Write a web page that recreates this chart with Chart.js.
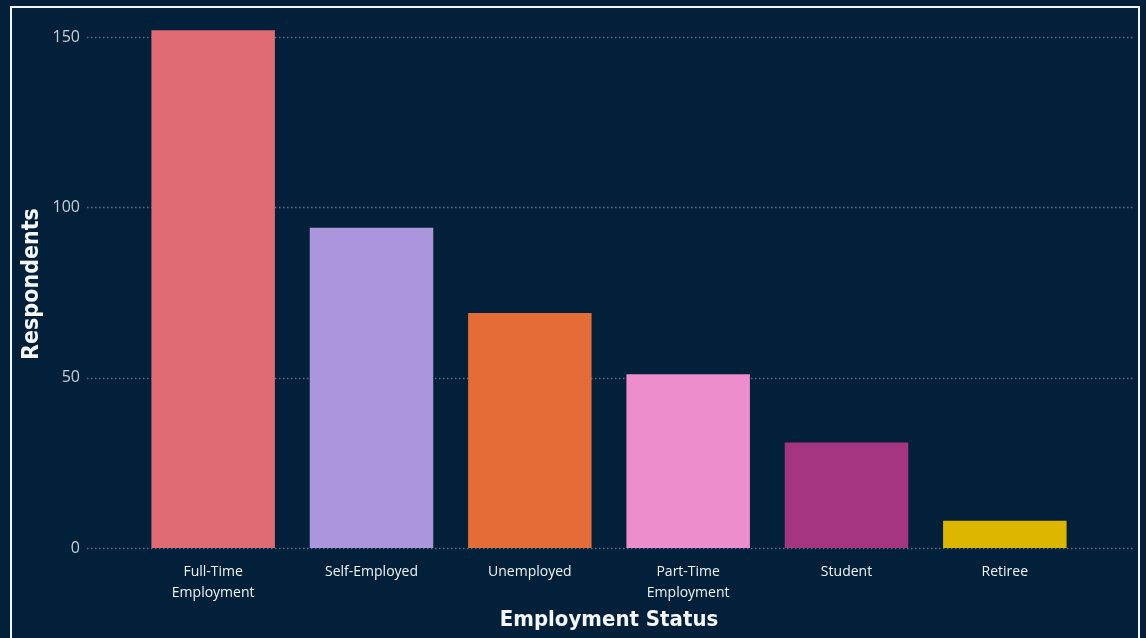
<!DOCTYPE html>
<html>
<head>
<meta charset="utf-8">
<script src="https://cdn.jsdelivr.net/npm/chart.js@4.4.1/dist/chart.umd.min.js"></script>
<style>
    html, body { margin: 0; padding: 0; background: #03203a; }
    #wrap { position: relative; width: 1146px; height: 638px; overflow: hidden; }
    #frame {
        position: absolute; left: 10px; top: 6px; width: 1130px; height: 700px;
        border: 2px solid #f2f4f6; box-sizing: border-box; pointer-events: none;
    }
    #chart { position: absolute; left: 0; top: 0; }
</style>
</head>
<body>
<div id="wrap">
    <canvas id="chart" width="1146" height="638"></canvas>
    <div id="frame"></div>
</div>
<script>
// Respondents by employment status
const categories = [
    ['Full-Time', 'Employment'],
    'Self-Employed',
    'Unemployed',
    ['Part-Time', 'Employment'],
    'Student',
    'Retiree',
];
const respondents = [152, 94, 69, 51, 31, 8];
const barColors = ['#e06b74', '#ab96dd', '#e46c37', '#ee8dcb', '#a53581', '#ddb600'];
const yTicks = [0, 50, 100, 150];

const AXIS_FONT = '"Open Sans", Lato, sans-serif';
const TITLE_FONT = '"DejaVu Sans Condensed", "DejaVu Sans", sans-serif';

// Dotted horizontal guides that run a little past both ends of the plot area.
const dottedGrid = {
    id: 'dottedGrid',
    beforeDatasetsDraw(chart) {
        const { ctx, chartArea, scales: { y } } = chart;
        ctx.save();
        ctx.strokeStyle = '#54708b';
        ctx.lineWidth = 1.5;
        ctx.setLineDash([1.5, 2.5]);
        for (const v of yTicks) {
            const py = Math.round(y.getPixelForValue(v)) + 0.5;
            ctx.beginPath();
            ctx.moveTo(chartArea.left - 47, py);
            ctx.lineTo(chartArea.right + 49, py);
            ctx.stroke();
        }
        ctx.restore();
    }
};

new Chart(document.getElementById('chart').getContext('2d'), {
    type: 'bar',
    data: {
        labels: categories,
        datasets: [{
            data: respondents,
            backgroundColor: barColors,
            borderWidth: 0,
            categoryPercentage: 0.78,
            barPercentage: 1,
        }]
    },
    options: {
        responsive: false,
        animation: false,
        layout: { padding: { left: 14, right: 62, top: 20, bottom: 0 } },
        plugins: { legend: { display: false }, tooltip: { enabled: false } },
        scales: {
            x: {
                grid: { display: false, drawTicks: false },
                border: { display: false },
                ticks: {
                    color: '#f1f3f5',
                    padding: 14,
                    maxRotation: 0,
                    autoSkip: false,
                    font: { family: AXIS_FONT, size: 14, lineHeight: 1.5 },
                },
                title: {
                    display: true,
                    text: 'Employment Status',
                    color: '#f4f6f8',
                    font: { family: TITLE_FONT, size: 22, weight: 'bold', lineHeight: 1.2 },
                    padding: { top: 0, bottom: 5 },
                },
                afterFit(scale) { scale.height = 90; },
            },
            y: {
                min: 0,
                max: 155,
                grid: { display: false, drawTicks: false },
                border: { display: false },
                afterBuildTicks(scale) { scale.ticks = yTicks.map(v => ({ value: v })); },
                ticks: {
                    color: '#c8cfd7',
                    padding: 54,
                    font: { family: AXIS_FONT, size: 16 },
                },
                title: {
                    display: true,
                    text: 'Respondents',
                    color: '#f4f6f8',
                    font: { family: TITLE_FONT, size: 23, weight: 'bold', lineHeight: 1.2 },
                    padding: { top: 4, bottom: 0 },
                },
                afterFit(scale) {
                    // wide label padding would otherwise push the plot area down
                    scale.width = 120;
                    scale.paddingTop = 0;
                    scale.paddingBottom = 0;
                },
            }
        }
    },
    plugins: [dottedGrid]
});
</script>
</body>
</html>
